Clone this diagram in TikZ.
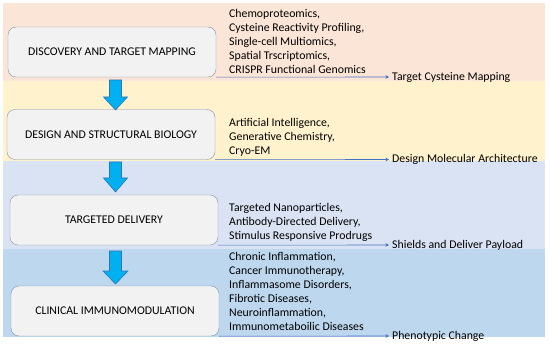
\documentclass[tikz,border=0pt]{standalone}
\usepackage{fontspec}
\setmainfont{Carlito}
\usepackage{tikz}
\usetikzlibrary{arrows.meta,positioning}

\definecolor{bandpeach}{HTML}{FBE5D6}
\definecolor{bandyellow}{HTML}{FFF2CC}
\definecolor{bandlight}{HTML}{DAE3F3}
\definecolor{bandblue}{HTML}{BDD7EE}
\definecolor{boxfill}{HTML}{F2F2F2}
\definecolor{boxline}{HTML}{8494AB}
\definecolor{arrowfill}{HTML}{00B0F0}
\definecolor{arrowline}{HTML}{2E75B6}
\definecolor{linkblue}{HTML}{4472C4}

\begin{document}
\begin{tikzpicture}[x=1pt, y=-1pt, node distance=3pt,
        stage/.style={rectangle, rounded corners=8pt, draw=boxline, fill=boxfill, minimum width=208pt, minimum height=50pt, inner sep=0pt, font=\fontsize{11.8}{13}\selectfont},
        tools/.style={anchor=north west, align=left, inner sep=0pt, font=\fontsize{11.8}{14}\selectfont},
        outcome/.style={inner sep=0pt, font=\fontsize{11.8}{13}\selectfont},
        link/.style={draw=linkblue, line width=0.6pt, -{Stealth[length=3.5pt,width=3.5pt]}},
        down/.style={draw=arrowline, fill=arrowfill, line width=0.6pt, line join=miter}]

    % page and bands
    \useasboundingbox (0,0) rectangle (550,345);
    \fill[white] (0,0) rectangle (550,345);
    \fill[bandpeach] (3,3) rectangle (545,81);
    \fill[bandyellow] (3,81) rectangle (545,161);
    \fill[bandlight] (3,161) rectangle (545,249);
    \fill[bandblue] (3,249) rectangle (545,337);

    % stages
    \node[stage] (disc) at (112,52) {DISCOVERY AND TARGET MAPPING};
    \node[stage] (design) at (111,134.5) {DESIGN AND STRUCTURAL BIOLOGY};
    \node[stage] (deliv) at (114,220) {TARGETED DELIVERY};
    \node[stage] (clin) at (115,311) {CLINICAL IMMUNOMODULATION};

    % block arrows
    \draw[down] (109.5,80) -- (121.5,80) -- (121.5,97) -- (127.5,97) -- (115.5,110) -- (103.5,97) -- (109.5,97) -- cycle;
    \draw[down] (109.5,162) -- (121.5,162) -- (121.5,178) -- (127.5,178) -- (115.5,192) -- (103.5,178) -- (109.5,178) -- cycle;
    \draw[down] (109.5,251) -- (121.5,251) -- (121.5,271) -- (128,271) -- (115.5,284) -- (103,271) -- (109.5,271) -- cycle;

    % tools and methods
    \node[tools] (disc-tools) at (229,9) {Chemoproteomics,\\Cysteine Reactivity Profiling,\\Single-cell Multiomics,\\Spatial Trscriptomics,\\CRISPR Functional Genomics};
    \node[tools] (design-tools) at (229,118) {Artificial Intelligence,\\Generative Chemistry,\\Cryo-EM};
    \node[tools] (deliv-tools) at (229,203) {Targeted Nanoparticles,\\Antibody-Directed Delivery,\\Stimulus Responsive Prodrugs};
    \node[tools] (clin-tools) at (229,252) {Chronic Inflammation,\\Cancer Immunotherapy,\\Inflammasome Disorders,\\Fibrotic Diseases,\\Neuroinflammation,\\Immunometaboilic Diseases};

    % outcomes
    \coordinate (disc-end) at (389,77);
    \coordinate (design-end) at (389,159.5);
    \coordinate (deliv-end) at (389,245);
    \coordinate (clin-end) at (389,336);
    \draw[link] (disc.south east) -- (disc-end);
    \draw[link] (design.south east) -- (design-end);
    \draw[link] (deliv.south east) -- (deliv-end);
    \draw[link] (clin.south east) -- (clin-end);
    \node[outcome, right=of disc-end] (disc-out) {Target Cysteine Mapping};
    \node[outcome, right=of design-end] (design-out) {Design Molecular Architecture};
    \node[outcome, right=of deliv-end] (deliv-out) {Shields and Deliver Payload};
    \node[outcome, right=of clin-end] (clin-out) {Phenotypic Change};
\end{tikzpicture}
\end{document}
